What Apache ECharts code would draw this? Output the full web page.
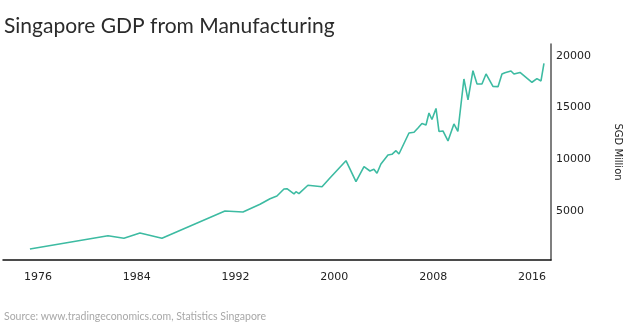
<!DOCTYPE html>
<html>
<head>
<meta charset="utf-8">
<script src="https://cdn.jsdelivr.net/npm/echarts@6/dist/echarts.min.js"></script>
<style>
  html, body { margin: 0; padding: 0; background: #fff; }
  #chart { width: 634px; height: 334px; }
</style>
</head>
<body>
<div id="chart"></div>
<script>
// Time (decimal year) of each observation
const years = [
  1975.35, 1981.67, 1982.96, 1984.26, 1986.04, 1991.14, 1992.6,
  1993.98, 1994.79, 1995.35, 1995.92, 1996.16, 1996.73, 1996.89, 1997.13,
  1997.86, 1999.0, 1999.64, 2000.94, 2001.75, 2002.4, 2002.88, 2003.2,
  2003.45, 2003.77, 2004.34, 2004.66, 2004.99, 2005.23, 2006.04, 2006.45,
  2006.77, 2007.09, 2007.42, 2007.66, 2007.9, 2008.23, 2008.47, 2008.79,
  2009.2, 2009.68, 2010.0, 2010.49, 2010.82, 2011.22, 2011.55, 2011.95,
  2012.28, 2012.84, 2013.25, 2013.57, 2013.81, 2014.3, 2014.54, 2015.03,
  2016.0, 2016.4, 2016.73, 2016.97
];

// GDP from manufacturing, SGD million
const gdp = [
  1333, 2618, 2366, 2878, 2366, 5003, 4907,
  5651, 6191, 6452, 7128, 7157, 6646, 6868, 6674,
  7486, 7351, 8191, 9862, 7834, 9282, 8867, 9031,
  8645, 9543, 10413, 10480, 10828, 10509, 12537, 12605,
  13020, 13455, 13310, 14469, 13841, 14904, 12682, 12730,
  11765, 13407, 12682, 17753, 15725, 18555, 17270, 17270,
  18236, 17029, 17010, 18236, 18362, 18526, 18236, 18381,
  17435, 17783, 17560, 19250
];

// Axis labels
const yearTicks = [1976, 1984, 1992, 2000, 2008, 2016];
const gdpTicks = [5000, 10000, 15000, 20000];

const chart = echarts.init(document.getElementById('chart'), null, { renderer: 'canvas' });

chart.setOption({
  backgroundColor: '#ffffff',
  animation: false,
  textStyle: { fontFamily: 'DejaVu Sans' },
  title: [
    {
      text: 'Singapore GDP from Manufacturing',
      left: 4,
      top: 16,
      padding: 0,
      textStyle: { fontFamily: 'Lato', fontWeight: 'normal', fontSize: 21, color: '#2b2b2b' }
    },
    {
      text: 'Source: www.tradingeconomics.com, Statistics Singapore',
      left: 4,
      top: 311,
      padding: 0,
      textStyle: { fontFamily: 'Lato', fontWeight: 'normal', fontSize: 10.5, color: '#a8a8a8' }
    }
  ],
  grid: { left: 3, right: 83, top: 44, bottom: 74, containLabel: false },
  xAxis: {
    type: 'value',
    min: 1973.17,
    max: 2017.54,
    splitLine: { show: false },
    axisTick: { show: false },
    axisLine: { show: true, lineStyle: { color: '#111', width: 1.5 } },
    axisLabel: {
      customValues: yearTicks,
      margin: 12,
      fontFamily: 'DejaVu Sans',
      fontSize: 11,
      color: '#222',
      formatter: v => String(v)
    }
  },
  yAxis: {
    type: 'value',
    position: 'right',
    min: 270,
    max: 21130,
    name: 'SGD Million',
    nameLocation: 'middle',
    nameRotate: -90,
    nameGap: 62,
    nameTextStyle: { fontFamily: 'DejaVu Sans', fontSize: 10, color: '#222' },
    splitLine: { show: false },
    axisTick: { show: false },
    axisLine: { show: true, lineStyle: { color: '#555', width: 1.5 } },
    axisLabel: {
      customValues: gdpTicks,
      margin: 5,
      fontFamily: 'DejaVu Sans',
      fontSize: 11,
      color: '#222',
      formatter: v => String(v)
    }
  },
  series: [
    {
      type: 'line',
      data: years.map((y, i) => [y, gdp[i]]),
      showSymbol: false,
      lineStyle: { color: '#3dbba2', width: 1.6 },
      itemStyle: { color: '#3dbba2' }
    }
  ]
});
</script>
</body>
</html>
